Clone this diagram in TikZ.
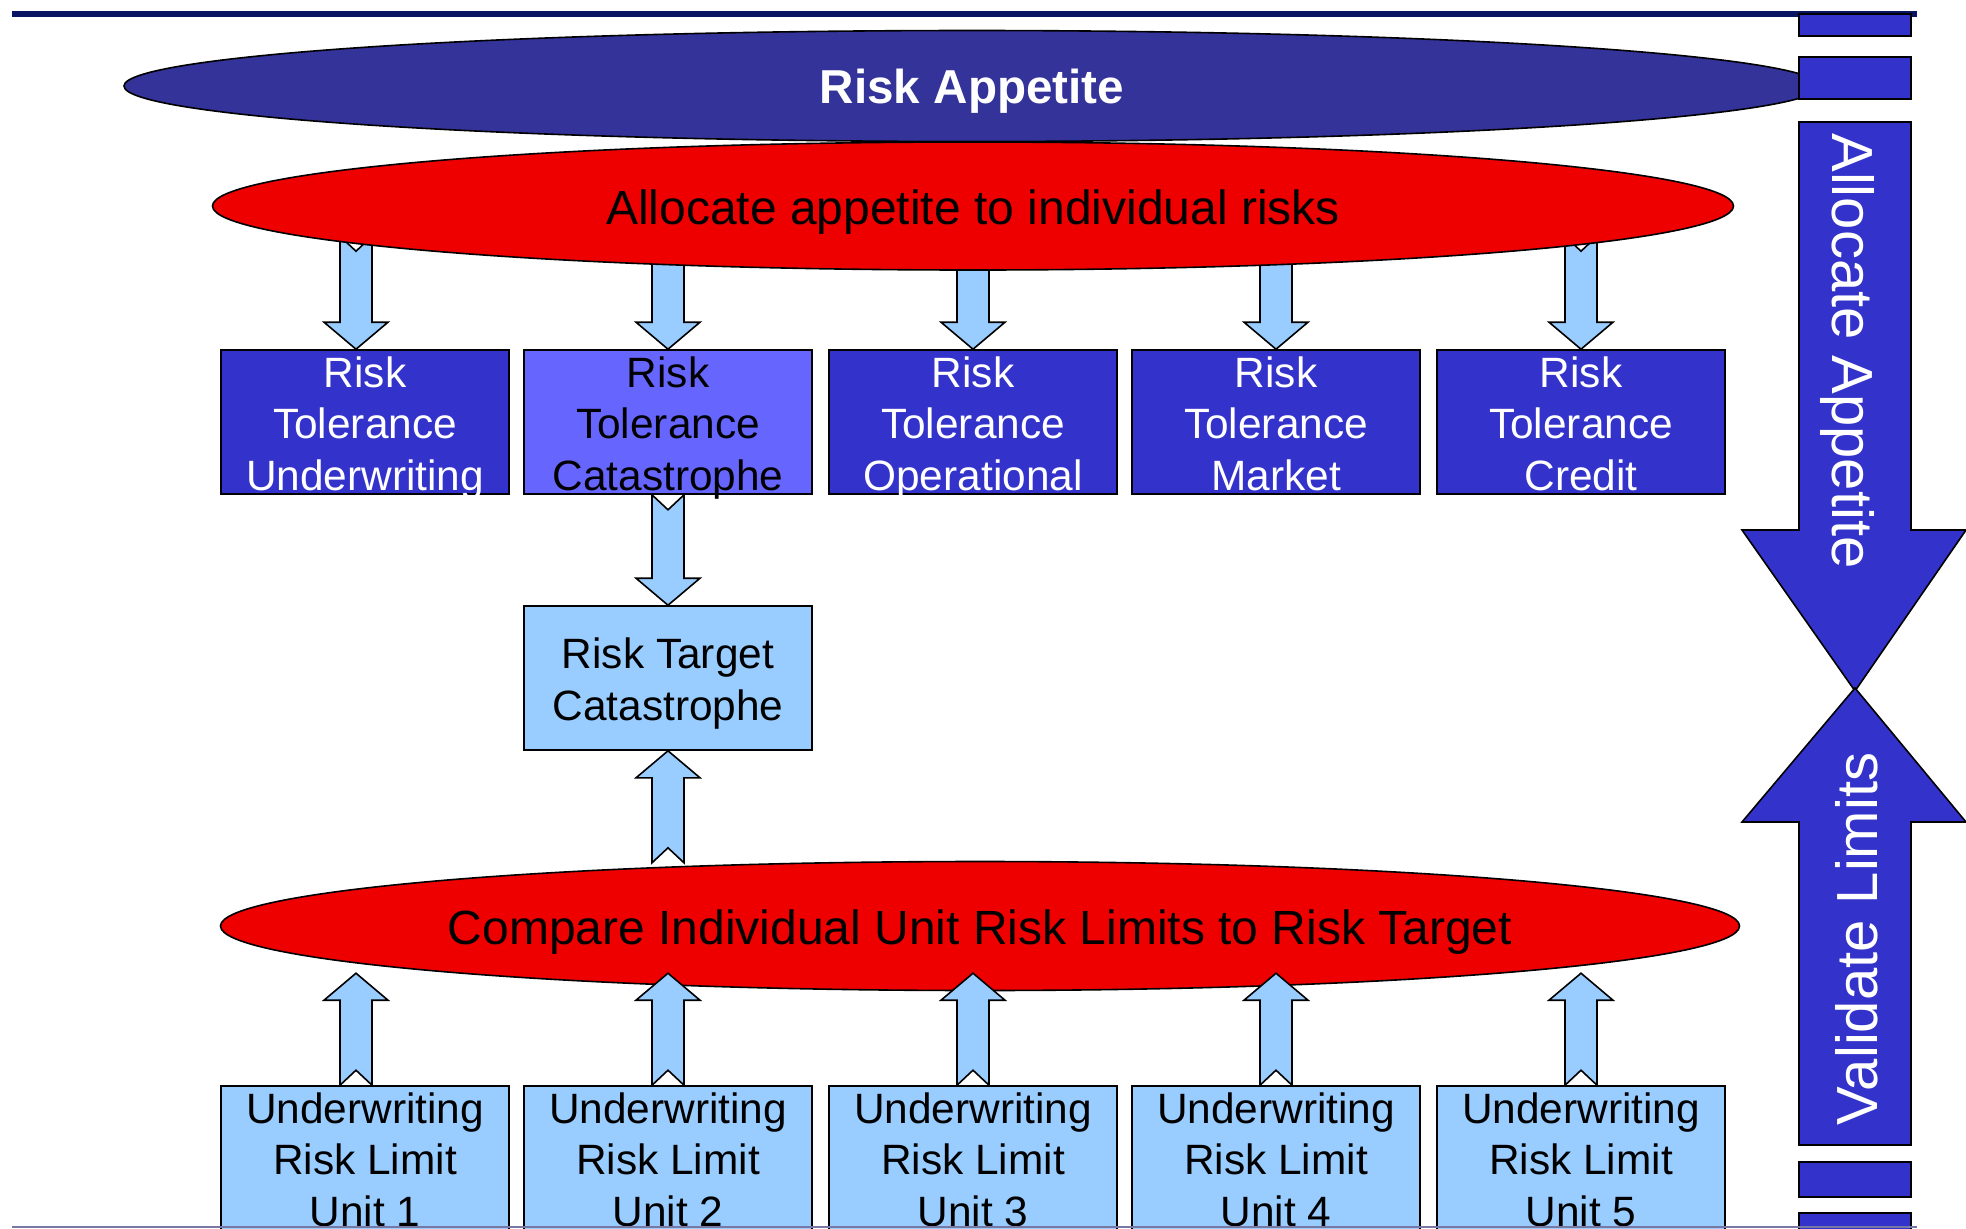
\documentclass[tikz,border=0pt]{standalone}
\usepackage{fontspec}
\setmainfont{Liberation Sans}
\definecolor{ranavy}{RGB}{10,20,100}
\definecolor{raindigo}{RGB}{51,51,153}
\definecolor{rared}{RGB}{238,0,0}
\definecolor{rablue}{RGB}{51,51,204}
\definecolor{raviolet}{RGB}{102,102,255}
\definecolor{rasky}{RGB}{153,204,255}
\definecolor{rarule}{RGB}{120,120,165}
\usetikzlibrary{calc,shapes.geometric,positioning}
% struts for the first and the last line in the boxes
\newcommand\topstrut{\rule{0pt}{21.74pt}}
\newcommand\botstrut{\rule[-5.14pt]{0pt}{5.14pt}}
% notched block arrow from #1 (tail) to #2 (tip)
\newcommand\blockarrow[2]{%
  \coordinate (ba-h) at ($(#2)!13.5pt!(#1)$);
  \draw[fatarrow] ($(#1)!8pt!90:(#2)$) -- ($(#1)!7.5pt!(#2)$) -- ($(#1)!8pt!-90:(#2)$)
    -- ($(ba-h)!8pt!-90:(#2)$) -- ($(ba-h)!16pt!-90:(#2)$) -- (#2)
    -- ($(ba-h)!16pt!90:(#2)$) -- ($(ba-h)!8pt!90:(#2)$) -- cycle;}

\begin{document}
\begin{tikzpicture}[x=0.5pt,y=-0.5pt,
  tolbox/.style={draw=black,line width=0.8pt,fill=rablue,text=white,minimum width=144pt,
    minimum height=72pt,inner xsep=0pt,inner ysep=-3.2pt,align=center,
    font=\fontsize{21.2}{25.7}\selectfont},
  limbox/.style={tolbox,fill=rasky,text=black},
  bigoval/.style={ellipse,draw=black,line width=0.8pt,inner sep=0pt,text height=18pt,
    text depth=0pt,font=\fontsize{24}{28}\selectfont},
  fatarrow/.style={draw=black,line width=0.8pt,fill=rasky,line join=miter},
  sidebar/.style={draw=black,line width=0.8pt,fill=rablue,line join=miter},
  sidetext/.style={text=white,inner sep=0pt,font=\fontsize{29}{34}\selectfont}]
  \useasboundingbox (0,0) rectangle (1966,1228);
  \clip (0,0) rectangle (1966,1228);
  % title rule
  \draw[ranavy,line width=3pt] (12,14) -- (1917,14);
  % risk appetite
  \node[bigoval,fill=raindigo,minimum width=848pt,minimum height=55.5pt,text=white,
    text height=17.5pt,font=\fontsize{23.8}{28}\selectfont\bfseries] (appetite) at (972,86) {Risk Appetite};
  % right-hand bar: allocate down, validate up
  \draw[sidebar] (1799,14) rectangle (1911,36);
  \draw[sidebar] (1799,57) rectangle (1911,99);
  \draw[sidebar] (1799,122) -- (1911,122) -- (1911,530) -- (1966,530) -- (1855,691)
    -- (1742,530) -- (1799,530) -- cycle;
  \draw[sidebar] (1799,1145) -- (1911,1145) -- (1911,822) -- (1966,822) -- (1855,688)
    -- (1742,822) -- (1799,822) -- cycle;
  \draw[sidebar] (1799,1162) rectangle (1911,1197);
  \draw[sidebar] (1799,1213) rectangle (1911,1240);
  \node[sidetext,rotate=-90,anchor=base] (allocside) at (1832,351) {Allocate Appetite};
  \node[sidetext,rotate=90,anchor=base] (validside) at (1877,939) {Validate Limits};
  % risk tolerances
  \foreach \i/\x/\what in {1/365/Underwriting,3/973/Operational,4/1276/Market,5/1581/Credit}
    \node[tolbox] (tol\i) at (\x,422) {\topstrut Risk\\Tolerance\\\botstrut \what};
  \node[tolbox,fill=raviolet,text=black] (tol2) at (668,422)
    {\topstrut Risk\\Tolerance\\\botstrut Catastrophe};
  \foreach \i/\dx in {1/-9,2/0,3/0,4/0,5/0} {
    \coordinate (dt\i) at ($(tol\i.north)+(\dx,-113)$);
    \coordinate (dh\i) at ($(tol\i.north)+(\dx,0)$);
    \blockarrow{dt\i}{dh\i}
  }
  \node[bigoval,fill=rared,minimum width=760.5pt,minimum height=64pt] (allocate) at (973,206)
    {Allocate appetite to individual risks};
  % risk target
  \node[limbox] (target) at (668,678) {\topstrut Risk Target\\\botstrut Catastrophe};
  \blockarrow{tol2.south}{target.north}
  \node[bigoval,fill=rared,minimum width=759.5pt,minimum height=64.5pt] (compare) at (980,926)
    {Compare Individual Unit Risk Limits to Risk Target};
  \coordinate (ct) at ($(target.south)+(0,112)$);
  \blockarrow{ct}{target.south}
  % unit limits
  \foreach \i/\x/\dx in {1/365/-9,2/668/0,3/973/0,4/1276/0,5/1581/0} {
    \node[limbox] (unit\i) at (\x,1158) {\topstrut Underwriting\\Risk Limit\\\botstrut Unit \i};
    \coordinate (ut\i) at ($(unit\i.north)+(\dx,0)$);
    \coordinate (uh\i) at ($(unit\i.north)+(\dx,-112)$);
    \blockarrow{ut\i}{uh\i}
  }
  \draw[rarule,line width=0.75pt] (12,1227) -- (1917,1227);
\end{tikzpicture}
\end{document}
